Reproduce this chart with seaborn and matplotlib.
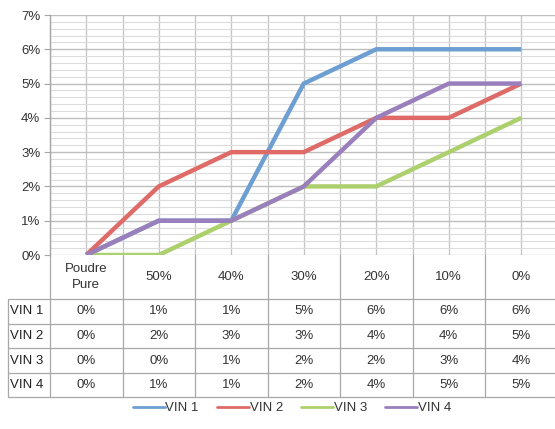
import matplotlib
matplotlib.use("Agg")
import matplotlib.pyplot as plt
import matplotlib.ticker as mtick
from matplotlib.lines import Line2D
import numpy as np
import pandas as pd
import seaborn as sns

# Data
categories = ["Poudre\nPure", "50%", "40%", "30%", "20%", "10%", "0%"]
series_names = ["VIN 1", "VIN 2", "VIN 3", "VIN 4"]
vin1 = [0, 1, 1, 5, 6, 6, 6]
vin2 = [0, 2, 3, 3, 4, 4, 5]
vin3 = [0, 0, 1, 2, 2, 3, 4]
vin4 = [0, 1, 1, 2, 4, 5, 5]
colors = ["#6d9fd3", "#de6b67", "#add06f", "#997fbb"]

values = [vin1, vin2, vin3, vin4]
df = pd.DataFrame({
    "x": np.tile(np.arange(len(categories)), len(series_names)),
    "val": np.concatenate(values) / 100.0,
    "serie": np.repeat(series_names, len(categories)),
})

sns.set_style("white")
plt.rcParams["font.family"] = ["Liberation Sans", "DejaVu Sans"]

W, H = 555, 429
FS = 9.5
fig = plt.figure(figsize=(W / 100, H / 100), dpi=100)


def fx(px):
    return px / W


def fy(py):
    return 1 - py / H


# plot area in pixel coordinates
left, right, top, bottom = 50, 557.5, 15, 255
ax = fig.add_axes([fx(left), fy(bottom), fx(right - left), fy(top) - fy(bottom)])

sns.lineplot(data=df, x="x", y="val", hue="serie", palette=colors,
             linewidth=3.2, ax=ax, legend=False, zorder=3)
for ln in ax.lines:
    ln.set_solid_joinstyle("miter")
    ln.set_solid_capstyle("butt")

ax.set_xlim(-0.5, len(categories) - 0.5)
ax.set_ylim(0, 0.07)
ax.set_xticks(np.arange(-0.5, len(categories), 0.5))
ax.set_xticklabels([])
ax.tick_params(axis="x", length=0)
ax.yaxis.set_major_locator(mtick.MultipleLocator(0.01))
ax.yaxis.set_minor_locator(mtick.MultipleLocator(0.002))
ax.yaxis.set_major_formatter(mtick.FuncFormatter(lambda v, p: f"{v * 100:.0f}%"))
ax.tick_params(axis="y", which="major", length=4, width=0.8, color="#a6a6a6",
               labelsize=FS, labelcolor="#333333", pad=3, left=True)
ax.tick_params(axis="y", which="minor", length=0)
ax.grid(True, axis="x", color="#c4c4c4", linewidth=0.9)
ax.grid(True, axis="y", which="major", color="#bdbdbd", linewidth=1.0)
ax.grid(True, axis="y", which="minor", color="#dcdcdc", linewidth=0.8)
ax.set_axisbelow(True)
ax.set_xlabel("")
ax.set_ylabel("")
for s in ["top", "right", "bottom"]:
    ax.spines[s].set_visible(False)
ax.spines["left"].set_color("#a6a6a6")
ax.spines["left"].set_linewidth(1.0)

# data table under the plot
tcolor = "#a8a8a8"
col_w = (right - left) / len(categories)
row_top = 299
row_h = 24.6
tbl_left = 8
n_rows = len(series_names)
tbl_bottom = row_top + n_rows * row_h

# vertical lines (header row and body)
for i in range(len(categories) + 1):
    xp = left + i * col_w
    fig.add_artist(Line2D([fx(xp), fx(xp)], [fy(bottom), fy(tbl_bottom)],
                          color=tcolor, lw=0.9))
fig.add_artist(Line2D([fx(tbl_left), fx(tbl_left)], [fy(row_top), fy(tbl_bottom)],
                      color=tcolor, lw=0.9))
# horizontal lines
for r in range(n_rows + 1):
    yp = row_top + r * row_h
    fig.add_artist(Line2D([fx(tbl_left), fx(right)], [fy(yp), fy(yp)],
                          color=tcolor, lw=0.9))

# header labels
for i, c in enumerate(categories):
    xp = left + (i + 0.5) * col_w
    fig.text(fx(xp), fy((bottom + row_top) / 2), c, ha="center", va="center",
             fontsize=FS, color="#333333", linespacing=1.35)

# body cells
for r, (name, vals) in enumerate(zip(series_names, values)):
    yp = row_top + (r + 0.5) * row_h
    fig.text(fx(tbl_left + 2), fy(yp), name, ha="left", va="center",
             fontsize=FS, color="#222222")
    for i, v in enumerate(vals):
        xp = left + (i + 0.5) * col_w
        fig.text(fx(xp), fy(yp), f"{v}%", ha="center", va="center",
                 fontsize=FS, color="#333333")

# legend
handles = [Line2D([], [], color=c, lw=2.0) for c in colors]
fig.legend(handles, series_names, loc="center", bbox_to_anchor=(fx(292), fy(408)),
           ncol=4, frameon=False, fontsize=FS, handlelength=2.4,
           handletextpad=0.05, columnspacing=1.4, labelcolor="#333333")

fig.savefig("out.png", dpi=100)
